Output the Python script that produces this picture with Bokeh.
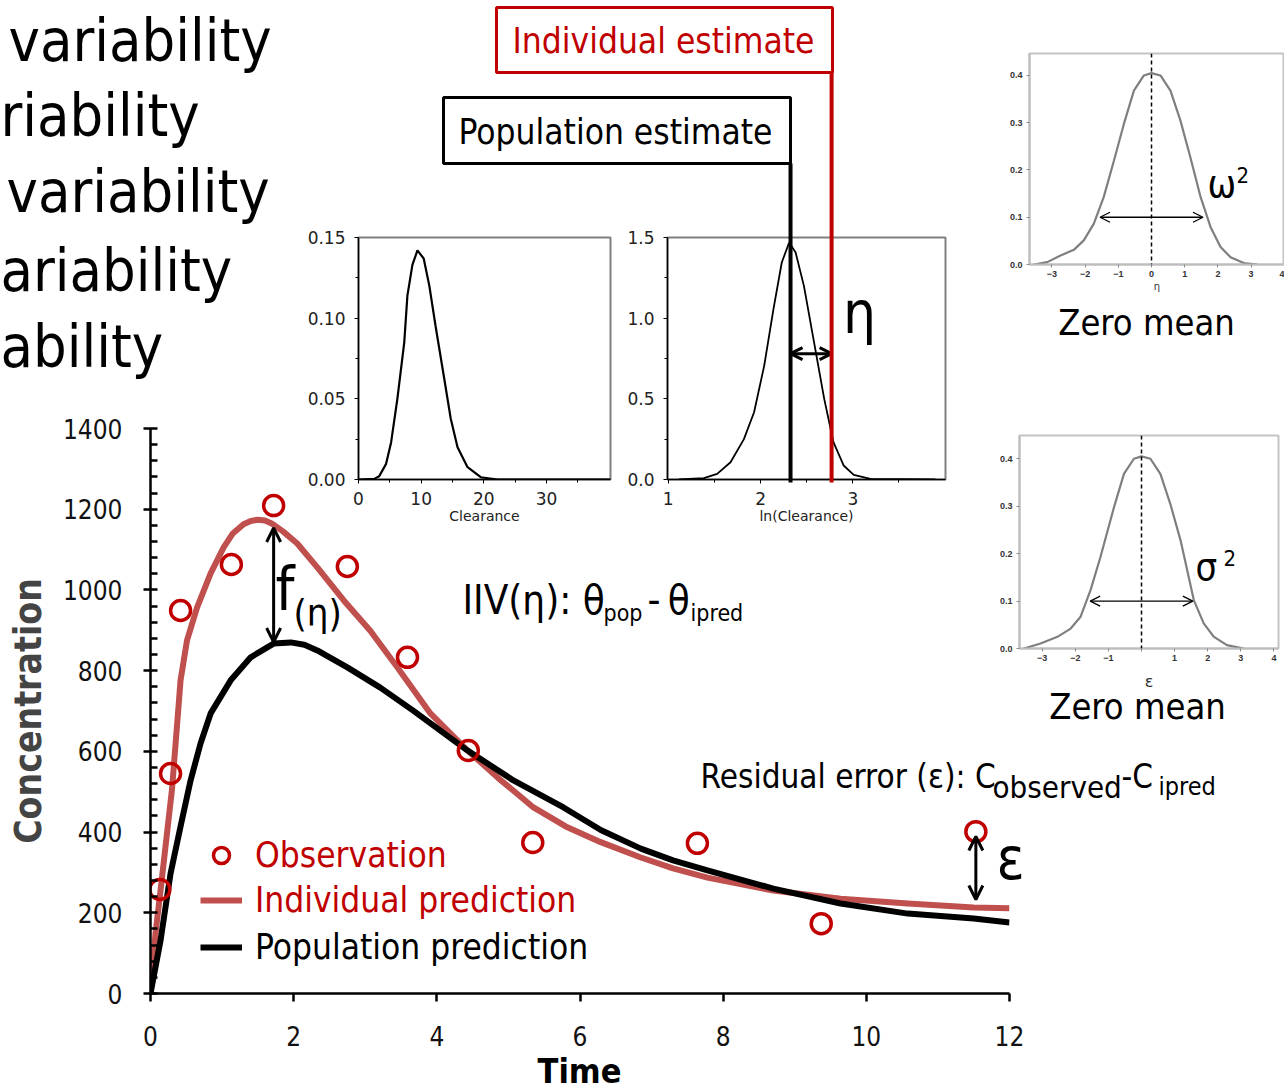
import numpy as np
from bokeh.plotting import figure
from bokeh.models import (Range1d, FixedTicker, NumeralTickFormatter, Label, Arrow,
                          OpenHead, Span, Legend, LegendItem, Column)
from bokeh.embed import file_html
from bokeh.resources import INLINE

W, H = 1284, 1092
FONT = "DejaVu Sans Condensed"
TICK_FONT = "DejaVu Sans"
RED = "#c00000"
IPRED_RED = "#c0504d"

# ---------------- concentration-time data ----------------
obs_time = [0.13, 0.28, 0.42, 1.13, 1.72, 2.75, 3.59, 4.44, 5.34, 7.64, 9.37, 11.53]
obs_conc = [258, 545, 949, 1063, 1209, 1058, 833, 602, 374, 372, 173, 401]

ipred_time = [0, 0.07, 0.14, 0.23, 0.30, 0.42, 0.51, 0.65, 0.84, 1.02, 1.15, 1.30, 1.40,
              1.50, 1.60, 1.70, 1.85, 2.05, 2.33, 2.70, 3.07, 3.45, 3.91, 4.43, 4.85,
              5.35, 5.80, 6.29, 6.85, 7.30, 7.78, 8.70, 9.64, 10.58, 11.50, 12.0]
ipred_conc = [0, 149, 255, 396, 505, 776, 875, 956, 1041, 1105, 1140, 1163, 1171,
              1174, 1172, 1164, 1145, 1115, 1056, 974, 899, 808, 694, 602, 535,
              461, 414, 375, 337, 310, 287, 255, 235, 223, 213, 211]

pred_time = [0, 0.14, 0.28, 0.42, 0.56, 0.70, 0.84, 1.12, 1.40, 1.72, 1.96, 2.15, 2.33,
             2.75, 3.21, 3.67, 4.43, 5.07, 5.77, 6.29, 6.85, 7.30, 7.78, 8.70, 9.64,
             10.58, 11.50, 12.0]
pred_conc = [0, 131, 297, 414, 528, 620, 694, 776, 833, 867, 870, 864, 850,
             808, 758, 701, 602, 528, 461, 405, 359, 330, 305, 260, 223,
             198, 186, 176]

time_ticks = [0, 2, 4, 6, 8, 10, 12]
conc_ticks = [0, 200, 400, 600, 800, 1000, 1200, 1400]
conc_minor = [v for v in range(40, 1400, 40) if v % 200]

# annotated deviations
eta_time = 1.72          # time at which f(eta) is marked
eps_index = 11           # observation used for the residual error

# ---------------- parameter distributions ----------------
cl_x = [0, 2.5, 3.3, 4.4, 5.2, 6.2, 7.3, 7.8, 8.6, 9.4, 10.4, 11.3, 12.3, 13.7, 14.7,
        15.8, 17.4, 19.5, 22.2, 40.2]
cl_dens = [0, 0.0004, 0.002, 0.0097, 0.023, 0.050, 0.085, 0.114, 0.133, 0.142, 0.137,
           0.120, 0.095, 0.062, 0.038, 0.020, 0.0076, 0.0014, 0, 0]

lncl_x = [1.115, 1.386, 1.53, 1.675, 1.82, 1.93, 2.04, 2.14, 2.23, 2.31, 2.38, 2.47,
          2.58, 2.69, 2.79, 2.90, 3.01, 3.19, 3.895]
lncl_dens = [0, 0.008, 0.035, 0.107, 0.25, 0.417, 0.706, 1.056, 1.345, 1.469, 1.407,
             1.20, 0.85, 0.50, 0.231, 0.087, 0.029, 0.004, 0]

pop_estimate = 2.325     # ln(Clearance), population
ind_estimate = 2.77      # ln(Clearance), individual
eta_arrow_level = 0.78

eta_x = [-3.54, -3.14, -2.74, -2.34, -2.04, -1.74, -1.44, -1.13, -0.83, -0.53, -0.23, 0,
         0.27, 0.57, 0.87, 1.17, 1.48, 1.78, 2.08, 2.38, 2.78, 3.18]
eta_dens = [0, 0.005, 0.019, 0.031, 0.051, 0.086, 0.1425, 0.22, 0.298, 0.368, 0.40, 0.405,
            0.40, 0.368, 0.305, 0.227, 0.1425, 0.079, 0.037, 0.0155, 0.003, 0]

eps_x = [-3.55, -3.05, -2.54, -2.14, -1.84, -1.54, -1.24, -0.83, -0.53, -0.23, 0,
         0.27, 0.57, 0.87, 1.18, 1.58, 1.88, 2.18, 2.58, 3.09]
eps_dens = [0, 0.0105, 0.0246, 0.042, 0.067, 0.123, 0.193, 0.298, 0.368, 0.40, 0.405,
            0.40, 0.368, 0.305, 0.228, 0.102, 0.053, 0.025, 0.007, 0]

spread_level = 0.1
spread_half = 1.55
std_ticks = [-3, -2, -1, 0, 1, 2, 3, 4]
dens_ticks = [0, 0.1, 0.2, 0.3, 0.4]


def panel(xr, yr, frame):
    left, right, top, bottom = frame
    p = figure(width=W, height=H, x_range=Range1d(*xr), y_range=Range1d(*yr), title=None,
               output_backend="svg", toolbar_location=None,
               min_border_left=left, min_border_right=W - right,
               min_border_top=top, min_border_bottom=H - bottom,
               border_fill_color=None, background_fill_color=None,
               outline_line_color=None)
    p.grid.visible = False
    return p


def style_small_axes(p, color, width, label_font, label_size, label_color, bold=False):
    for ax in (p.xaxis[0], p.yaxis[0]):
        ax.axis_line_color = color
        ax.axis_line_width = width
        ax.major_tick_line_color = color
        ax.minor_tick_line_color = color
        ax.major_tick_in = 0
        ax.minor_tick_in = 0
        ax.major_label_text_font = label_font
        ax.major_label_text_font_size = label_size
        ax.major_label_text_color = label_color
        ax.major_label_text_font_style = "bold" if bold else "normal"
        ax.axis_label_text_font_style = "normal"


# ---------------- main concentration-time plot ----------------
main = panel((0, 12), (0, 1400), (150, 1009, 428, 993))
ipred_r = main.line(ipred_time, ipred_conc, line_color=IPRED_RED, line_width=6,
                    line_join="round")
pred_r = main.line(pred_time, pred_conc, line_color="black", line_width=6, line_join="round")
obs_r = main.scatter(obs_time, obs_conc, marker="circle", size=20, fill_color=None,
                     line_color=RED, line_width=3.5)

for ax in (main.xaxis[0], main.yaxis[0]):
    ax.axis_line_width = 2.5
    ax.major_tick_line_width = 2.5
    ax.minor_tick_line_width = 2.5
    ax.major_label_text_font = FONT
    ax.major_label_text_font_size = "26px"
    ax.major_label_text_color = "#111111"
main.xaxis.ticker = FixedTicker(ticks=time_ticks)
main.xaxis.major_tick_in = 0
main.xaxis.major_tick_out = 8
main.xaxis.major_label_standoff = 24
main.yaxis.ticker = FixedTicker(ticks=conc_ticks, minor_ticks=conc_minor)
main.yaxis.major_tick_in = 7
main.yaxis.major_tick_out = 7
main.yaxis.minor_tick_in = 7
main.yaxis.minor_tick_out = 0
main.yaxis.major_label_standoff = 21
main.yaxis.axis_label = "Concentration"
main.yaxis.axis_label_text_font = FONT
main.yaxis.axis_label_text_font_style = "bold"
main.yaxis.axis_label_text_font_size = "37px"
main.yaxis.axis_label_standoff = 10

# deviation arrows
eta_lo = float(np.interp(eta_time, pred_time, pred_conc))
eta_hi = float(np.interp(eta_time, ipred_time, ipred_conc))
main.add_layout(Arrow(start=OpenHead(size=14, line_width=3), end=OpenHead(size=14, line_width=3),
                      x_start=eta_time, y_start=eta_hi - 8, x_end=eta_time, y_end=eta_lo + 4,
                      line_width=3))
eps_t = obs_time[eps_index]
eps_lo = float(np.interp(eps_t, ipred_time, ipred_conc))
main.add_layout(Arrow(start=OpenHead(size=14, line_width=3), end=OpenHead(size=14, line_width=3),
                      x_start=eps_t, y_start=obs_conc[eps_index] - 12, x_end=eps_t, y_end=eps_lo + 20,
                      line_width=3))

legend_rows = [("Observation", obs_r, RED, 118),
               ("Individual prediction", ipred_r, RED, 73),
               ("Population prediction", pred_r, "black", 26)]
for label, rend, color, ypos in legend_rows:
    lg = Legend(items=[LegendItem(label=label, renderers=[rend])], location=(50, ypos),
                label_text_font=FONT, label_text_font_size="35px", label_text_color=color,
                glyph_width=42, glyph_height=40, label_height=40, label_standoff=13,
                padding=0, margin=0, spacing=0, border_line_color=None,
                background_fill_alpha=0)
    main.add_layout(lg)

# ---------------- Clearance density ----------------
cl = panel((0, 40.2), (0, 0.15), (358, 610, 237, 479))
cl.outline_line_color = "#808080"
cl.outline_line_width = 2
cl.line(cl_x, cl_dens, line_color="black", line_width=2.2)
style_small_axes(cl, "black", 1.5, TICK_FONT, "17px", "#222222")
cl.xaxis.ticker = FixedTicker(ticks=[0, 10, 20, 30], minor_ticks=[5, 15, 25, 35])
cl.yaxis.ticker = FixedTicker(ticks=[0, 0.05, 0.10, 0.15], minor_ticks=[0.025, 0.075, 0.125])
cl.yaxis.formatter = NumeralTickFormatter(format="0.00")
for ax in (cl.xaxis[0], cl.yaxis[0]):
    ax.major_tick_out = 4
    ax.minor_tick_out = 3
cl.xaxis.major_label_standoff = 8
cl.yaxis.major_label_standoff = 9
cl.xaxis.axis_label = "Clearance"
cl.xaxis.axis_label_text_font = TICK_FONT
cl.xaxis.axis_label_text_font_size = "14px"
cl.xaxis.axis_label_text_color = "#222222"
cl.xaxis.axis_label_standoff = 0

# ---------------- ln(Clearance) density ----------------
ln = panel((0.992, 4.004), (0, 1.5), (667, 945, 237, 479))
ln.outline_line_color = "#808080"
ln.outline_line_width = 2
ln.line(lncl_x, lncl_dens, line_color="black", line_width=1.8)
style_small_axes(ln, "black", 1.5, TICK_FONT, "17px", "#222222")
ln.xaxis.ticker = FixedTicker(ticks=[1, 2, 3], minor_ticks=[1.5, 2.5, 3.5])
ln.yaxis.ticker = FixedTicker(ticks=[0, 0.5, 1.0, 1.5], minor_ticks=[0.25, 0.75, 1.25])
ln.yaxis.formatter = NumeralTickFormatter(format="0.0")
for ax in (ln.xaxis[0], ln.yaxis[0]):
    ax.major_tick_out = 4
    ax.minor_tick_out = 3
ln.xaxis.major_label_standoff = 8
ln.yaxis.major_label_standoff = 9
ln.xaxis.axis_label = "ln(Clearance)"
ln.xaxis.axis_label_text_font = TICK_FONT
ln.xaxis.axis_label_text_font_size = "14px"
ln.xaxis.axis_label_text_color = "#222222"
ln.xaxis.axis_label_standoff = 0
ln.add_layout(Arrow(start=OpenHead(size=12, line_width=3), end=OpenHead(size=12, line_width=3),
                    x_start=pop_estimate, y_start=eta_arrow_level,
                    x_end=ind_estimate, y_end=eta_arrow_level, line_width=3))


# ---------------- standard normal panels ----------------
def normal_panel(xr, yr, frame, xs, ys, axis_label, label_size, label_standoff, hide_zero):
    p = panel(xr, yr, frame)
    p.outline_line_color = "#c4c4c4"
    p.outline_line_width = 2
    p.line(xs, ys, line_color="#7f7f7f", line_width=2.2)
    style_small_axes(p, "#bdbdbd", 2, "Liberation Sans", "9px", "#333333", bold=True)
    p.xaxis.ticker = FixedTicker(ticks=std_ticks)
    p.yaxis.ticker = FixedTicker(ticks=dens_ticks)
    p.yaxis.formatter = NumeralTickFormatter(format="0.0")
    if hide_zero:
        p.xaxis.major_label_overrides = {0: ""}
    for ax in (p.xaxis[0], p.yaxis[0]):
        ax.major_tick_out = 3
        ax.minor_tick_out = 0
        ax.major_tick_line_color = "#8a8a8a"
    p.xaxis.major_label_standoff = 3
    p.yaxis.major_label_standoff = 4
    p.xaxis.axis_label = axis_label
    p.xaxis.axis_label_text_font = "DejaVu Sans"
    p.xaxis.axis_label_text_font_size = label_size
    p.xaxis.axis_label_text_color = "#333333"
    p.xaxis.axis_label_standoff = label_standoff
    p.add_layout(Span(location=0, dimension="height", line_color="black", line_width=1.5,
                      line_dash="4 3"))
    p.add_layout(Arrow(start=OpenHead(size=10, line_width=1.3), end=OpenHead(size=10, line_width=1.3),
                       x_start=-spread_half, y_start=spread_level, x_end=spread_half,
                       y_end=spread_level, line_width=1.3))
    return p


eta_p = normal_panel((-3.675, 4.006), (0, 0.4465), (1029, 1284, 53, 264),
                     eta_x, eta_dens, "η", "10px", 1, False)
eps_p = normal_panel((-3.686, 4.139), (0, 0.449), (1019, 1278, 435, 648),
                     eps_x, eps_dens, "ε", "16px", 8, True)

# ---------------- page-level annotations ----------------
ov = figure(width=W, height=H, x_range=Range1d(0, W), y_range=Range1d(H, 0), title=None,
            output_backend="svg", toolbar_location=None, x_axis_type=None, y_axis_type=None,
            min_border_left=0, min_border_right=0, min_border_top=0, min_border_bottom=0,
            border_fill_color=None, background_fill_color=None, outline_line_color=None)
ov.grid.visible = False


def text(x, y, s, size, color="black", align="left", bold=False):
    ov.add_layout(Label(x=x, y=y, text=s, text_font=FONT, text_font_size=f"{size}px",
                        text_color=color, text_align=align, text_baseline="middle",
                        text_font_style="bold" if bold else "normal"))


# list of variability sources
for s, xl, yc in [("variability", 8, 40), ("riability", 0, 115), ("variability", 6, 191),
                  ("ariability", 0, 270), ("ability", 0, 346)]:
    text(xl, yc, s, 59)

# estimate boxes and their markers on the ln(Clearance) axis
ln_left, ln_right = 667, 945
ln_x0, ln_x1 = 0.992, 4.004


def ln_px(v):
    return ln_left + (v - ln_x0) / (ln_x1 - ln_x0) * (ln_right - ln_left)


ov.quad(left=[496], right=[832], top=[7], bottom=[72], fill_color=None, line_color=RED, line_width=3)
ov.quad(left=[443], right=[790], top=[97], bottom=[163], fill_color=None, line_color="black", line_width=3)
ov.segment(x0=[ln_px(ind_estimate)], y0=[72], x1=[ln_px(ind_estimate)], y1=[482],
           line_color=RED, line_width=4)
ov.segment(x0=[ln_px(pop_estimate)], y0=[163], x1=[ln_px(pop_estimate)], y1=[482],
           line_color="black", line_width=4)
text(663, 40, "Individual estimate", 35, color=RED, align="center")
text(615, 131, "Population estimate", 35, align="center")
text(859, 312, "η", 58, align="center")

# deviation symbols in the main plot
text(275, 588, "f", 60)
text(293, 612, "(η)", 38)
text(996, 858, "ε", 58)

# formulas
text(462, 599, "IIV(η): θ", 40)
text(603, 612, "pop", 23)
text(647, 599, "-\u2009θ", 40)
text(690, 612, "ipred", 23)

text(700, 776, "Residual error (ε): C", 33)
text(992, 786, "observed", 31)
text(1121, 776, "-C", 33)
text(1158, 786, "ipred", 25)

# normal panel captions
text(1146, 322, "Zero mean", 36, align="center")
text(1207, 183, "ω", 38)
text(1236, 174, "2", 22)
text(1137, 706, "Zero mean", 36, align="center")
text(1195, 566, "σ", 38)
text(1223, 557, "2", 22)

text(579, 1070, "Time", 34, align="center", bold=True)

# stack the panels on one page: each sits in its own wrapper, pulled up over the previous one
wrappers = []
for i, fig in enumerate([main, cl, ln, eta_p, eps_p, ov]):
    wrappers.append(Column(children=[fig], width=W, height=H,
                           margin=(0, 0, 0, 0) if i == 0 else (-H, 0, 0, 0)))
layout = Column(children=wrappers, width=W, height=H)

open("out.html", "w").write(file_html(layout, INLINE))
